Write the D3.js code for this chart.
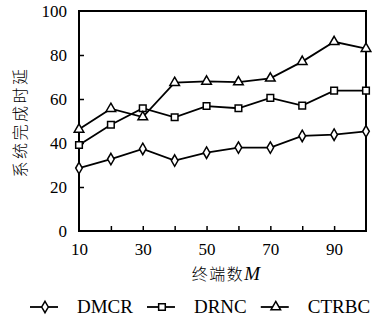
<!DOCTYPE html>
<html>
<head>
<meta charset="utf-8">
<script src="https://cdn.jsdelivr.net/npm/d3@7"></script>
<style>
html,body{margin:0;padding:0;background:#fff;overflow:hidden;}
svg{display:block;}
</style>
</head>
<body>
<svg id="chart" width="372" height="324"></svg>
<script>
const terminals = [10, 20, 30, 40, 50, 60, 70, 80, 90, 100];
const dmcr  = [28.6, 32.7, 37.3, 32.0, 35.6, 37.9, 37.9, 43.2, 43.8, 45.3];
const drnc  = [39.1, 48.3, 55.8, 51.7, 56.8, 55.8, 60.5, 57.0, 63.8, 63.8];
const ctrbc = [46.2, 55.6, 51.8, 67.4, 68.0, 67.7, 69.4, 77.0, 86.0, 82.9];
const seriesNames = ["DMCR", "DRNC", "CTRBC"];
const seriesSymbols = ["diamond", "square", "triangle"];
const xTickLabels = [10, 30, 50, 70, 90];
const xMinorTicks = [20, 30, 40, 50, 60, 70, 80, 90];
const yTickLabels = [0, 20, 40, 60, 80, 100];
const yInnerTicks = [20, 40, 60, 80];
const xTitle = "终端数";
const xTitleVar = "M";
const yTitle = "系统完成时延";

const svg = d3.select("#chart");
const pLeft = 79, pRight = 366, pTop = 11, pBottom = 231;
const x = d3.scaleLinear().domain([10, 100]).range([pLeft, pRight]);
const y = d3.scaleLinear().domain([0, 100]).range([pBottom, pTop]);
const serif = "'Liberation Serif', serif";

// frame
svg.append("rect").attr("x", pLeft).attr("y", pTop)
  .attr("width", pRight - pLeft).attr("height", pBottom - pTop)
  .attr("fill", "none").attr("stroke", "#000").attr("stroke-width", 2);

// bottom inner ticks
const xAxis = d3.axisBottom(x).tickValues(xMinorTicks).tickSizeInner(-5).tickSizeOuter(0).tickFormat("");
const gx = svg.append("g").attr("transform", `translate(0,${pBottom})`).call(xAxis);
gx.select(".domain").remove();
gx.selectAll("line").attr("stroke", "#000").attr("stroke-width", 1.5);

// x labels
const gxl = svg.append("g").attr("transform", `translate(0,${pBottom})`)
  .call(d3.axisBottom(x).tickValues(xTickLabels).tickSize(0).tickPadding(12));
gxl.select(".domain").remove();
gxl.selectAll("text").attr("font-family", serif).attr("font-size", 17).attr("fill", "#000");

// left inner ticks
const yAxis = d3.axisLeft(y).tickValues(yInnerTicks).tickSizeInner(-5).tickSizeOuter(0).tickFormat("");
const gy = svg.append("g").attr("transform", `translate(${pLeft},0)`).call(yAxis);
gy.select(".domain").remove();
gy.selectAll("line").attr("stroke", "#000").attr("stroke-width", 1.5);

const gyl = svg.append("g").attr("transform", `translate(${pLeft},0)`)
  .call(d3.axisLeft(y).tickValues(yTickLabels).tickSize(0).tickPadding(12));
gyl.select(".domain").remove();
gyl.selectAll("text").attr("font-family", serif).attr("font-size", 17).attr("fill", "#000");

// axis titles
const xt = svg.append("text").attr("x", 226).attr("y", 280).attr("text-anchor", "middle")
  .attr("font-size", 16).attr("fill", "#000");
xt.append("tspan").attr("font-family", "'Noto Sans CJK SC', sans-serif").attr("font-weight", 300)
  .attr("letter-spacing", 1.5).text(xTitle);
xt.append("tspan").attr("font-family", serif).attr("font-style", "italic").attr("font-size", 19).text(xTitleVar);

svg.append("text").attr("transform", "translate(26,122) rotate(-90)")
  .attr("text-anchor", "middle").attr("font-family", "'Noto Sans CJK SC', sans-serif")
  .attr("font-weight", 300).attr("font-size", 16).attr("letter-spacing", 2.5).attr("fill", "#000")
  .text(yTitle);

// series
const allSeries = [dmcr, drnc, ctrbc];
const line = d3.line().x((d, i) => x(terminals[i])).y(d => y(d));
function symbolPath(kind) {
  if (kind === "diamond") return d3.symbol(d3.symbolDiamond, 38)();
  if (kind === "square") return d3.symbol(d3.symbolSquare, 44)();
  return d3.symbol(d3.symbolTriangle, 40)();
}
allSeries.forEach((vals, si) => {
  svg.append("path").datum(vals).attr("d", line)
    .attr("fill", "none").attr("stroke", "#000").attr("stroke-width", 1.8);
  svg.selectAll(null).data(vals).enter().append("path")
    .attr("d", symbolPath(seriesSymbols[si]))
    .attr("transform", (d, i) => `translate(${x(terminals[i])},${y(d)})`)
    .attr("fill", "#fff").attr("stroke", "#000").attr("stroke-width", 1.5);
});

// legend
const legY = 307;
let lx = 30;
seriesNames.forEach((name, si) => {
  const g = svg.append("g");
  g.append("line").attr("x1", lx).attr("x2", lx + 28).attr("y1", legY).attr("y2", legY)
    .attr("stroke", "#000").attr("stroke-width", 1.8);
  g.append("path").attr("d", symbolPath(seriesSymbols[si]))
    .attr("transform", `translate(${lx + 15},${legY})`)
    .attr("fill", "#fff").attr("stroke", "#000").attr("stroke-width", 1.5);
  const t = g.append("text").attr("x", lx + 47).attr("y", legY + 6)
    .attr("font-family", serif).attr("font-size", 19).attr("fill", "#000").text(name);
  lx = lx + 47 + t.node().getComputedTextLength() + 14;
});
</script>
</body>
</html>
